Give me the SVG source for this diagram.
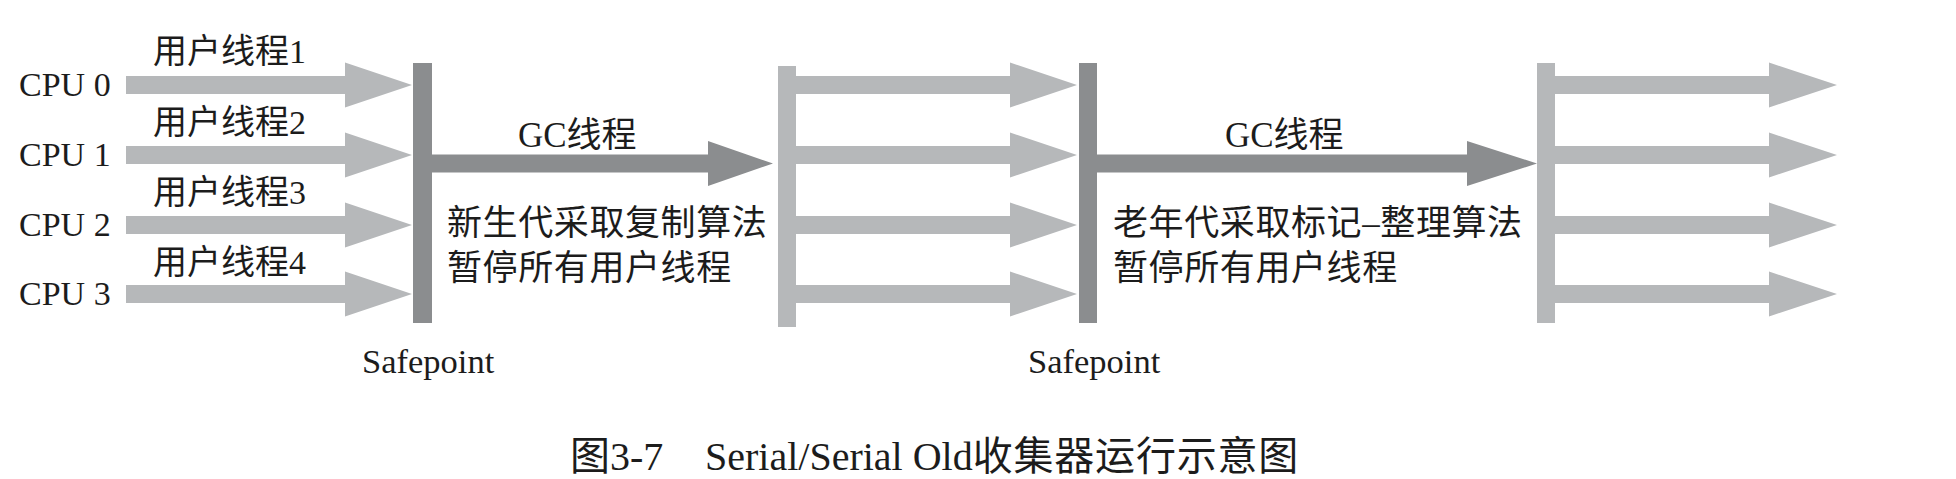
<svg xmlns="http://www.w3.org/2000/svg" width="1956" height="479" viewBox="0 0 1956 479">
<style>
.lat{font-family:"Liberation Serif","Times New Roman",serif;fill:#1c1c1c}
.cjk{font-family:"Liberation Serif","Noto Sans CJK SC",serif;fill:#1c1c1c}
.lt{fill:#b6b8ba}
.dk{fill:#8b8d8f}
</style>
<rect width="1956" height="479" fill="#ffffff"/>
<g id="connectors">
<polygon class="lt" points="126,76 345,76 345,62.5 412,85 345,107.5 345,94 126,94"/>
<polygon class="lt" points="126,146 345,146 345,132.5 412,155 345,177.5 345,164 126,164"/>
<polygon class="lt" points="126,216 345,216 345,202.5 412,225 345,247.5 345,234 126,234"/>
<polygon class="lt" points="126,285 345,285 345,271.5 412,294 345,316.5 345,303 126,303"/>
<polygon class="dk" points="432,154.5 708,154.5 708,141 773,163.5 708,186 708,172.5 432,172.5"/>
<polygon class="lt" points="796,76 1010,76 1010,62.5 1077,85 1010,107.5 1010,94 796,94"/>
<polygon class="lt" points="796,146 1010,146 1010,132.5 1077,155 1010,177.5 1010,164 796,164"/>
<polygon class="lt" points="796,216 1010,216 1010,202.5 1077,225 1010,247.5 1010,234 796,234"/>
<polygon class="lt" points="796,285 1010,285 1010,271.5 1077,294 1010,316.5 1010,303 796,303"/>
<polygon class="dk" points="1097,154.5 1467,154.5 1467,141 1537,163.5 1467,186 1467,172.5 1097,172.5"/>
<polygon class="lt" points="1555,76 1769,76 1769,62.5 1837,85 1769,107.5 1769,94 1555,94"/>
<polygon class="lt" points="1555,146 1769,146 1769,132.5 1837,155 1769,177.5 1769,164 1555,164"/>
<polygon class="lt" points="1555,216 1769,216 1769,202.5 1837,225 1769,247.5 1769,234 1555,234"/>
<polygon class="lt" points="1555,285 1769,285 1769,271.5 1837,294 1769,316.5 1769,303 1555,303"/>
</g>
<g id="cpu-labels">
<text class="lat" x="19" y="96" font-size="34">CPU 0</text>
<text class="lat" x="19" y="166" font-size="34">CPU 1</text>
<text class="lat" x="19" y="236" font-size="34">CPU 2</text>
<text class="lat" x="19" y="305" font-size="34">CPU 3</text>
</g>
<g id="thread-labels">
<text class="cjk" x="153" y="63" font-size="34">用户线程1</text>
<text class="cjk" x="153" y="134" font-size="34">用户线程2</text>
<text class="cjk" x="153" y="204" font-size="34">用户线程3</text>
<text class="cjk" x="153" y="274" font-size="34">用户线程4</text>
</g>
<g id="safepoint1">
<rect class="dk" x="413" y="63" width="19" height="260"/>
<text class="lat" x="362" y="373" font-size="34.5">Safepoint</text>
</g>
<g id="gc-young">
<text class="cjk" x="518" y="147" font-size="35">GC线程</text>
<text class="cjk" x="447" y="235" font-size="35" letter-spacing="0.6">新生代采取复制算法</text>
<text class="cjk" x="447" y="280" font-size="35" letter-spacing="0.6">暂停所有用户线程</text>
</g>
<g id="resume1">
<rect class="lt" x="778" y="66" width="18" height="261"/>
</g>
<g id="safepoint2">
<rect class="dk" x="1079" y="63" width="18" height="260"/>
<text class="lat" x="1028" y="373" font-size="34.5">Safepoint</text>
</g>
<g id="gc-old">
<text class="cjk" x="1225" y="147" font-size="35">GC线程</text>
<text class="cjk" x="1113" y="235" font-size="35" letter-spacing="0.6">老年代采取标记–整理算法</text>
<text class="cjk" x="1113" y="280" font-size="35" letter-spacing="0.6">暂停所有用户线程</text>
</g>
<g id="resume2">
<rect class="lt" x="1537" y="63" width="18" height="260"/>
</g>
<g id="caption">
<text class="cjk" x="570" y="470" font-size="40">图3-7<tspan x="705">Serial/Serial Old</tspan><tspan letter-spacing="0.8">收集器运行示意图</tspan></text>
</g>
</svg>
